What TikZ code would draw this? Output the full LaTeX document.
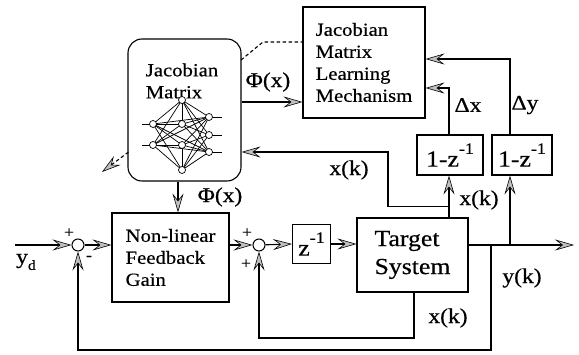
\documentclass[tikz,border=0pt]{standalone}
\usepackage{fontspec}
\setmainfont{Liberation Serif}[FakeStretch=1.12,FakeBold=0.5]
\usetikzlibrary{arrows.meta,calc}

\tikzset{
  sig/.style={line width=1.1pt},
  sigarrow/.style={arrows={-Stealth[length=19pt,width=11pt,inset=7pt,fill=gray!50,line width=0.6pt]}},
  blk/.style={draw,line width=1.1pt,inner sep=0pt,align=left,font=\fontsize{18.5}{22}\selectfont},
  sumnode/.style={draw,circle,line width=1pt,fill=white,minimum size=12pt,inner sep=0pt},
  lbl/.style={font=\fontsize{21}{22}\selectfont,inner sep=0pt},
  sgn/.style={font=\fontsize{16}{16}\selectfont,inner sep=0pt},
  neuron/.style={draw,circle,fill=white,line width=0.7pt,minimum size=7pt,inner sep=0pt},
  wire/.style={line width=0.7pt},
}
\newcommand{\supm}[1]{\raisebox{0.55em}{\fontsize{16}{16}\selectfont #1}}

\begin{document}
\begin{tikzpicture}[x=1pt,y=-1pt]
\useasboundingbox (0,0) rectangle (579,355);

% blocks
\node[blk,rounded corners=14pt,minimum width=113pt,minimum height=142pt] (jac) at (184.5,110) {};
\node[font=\fontsize{18.5}{22}\selectfont,align=left,inner sep=0pt] (jactext) at (182,81) {Jacobian\\Matrix};
\node[blk,minimum width=122pt,minimum height=111pt] (jml) at (364,62.5) {Jacobian\\Matrix\\Learning\\Mechanism};
\node[blk,minimum width=117pt,minimum height=89pt] (nfg) at (170.5,257.5) {Non-linear\\Feedback\\Gain};
\node[blk,minimum width=111pt,minimum height=74pt,font=\fontsize{23}{28}\selectfont] (tgt) at (412.5,255) {Target\\System};
\node[blk,minimum width=38pt,minimum height=39pt,align=center,font=\fontsize{23}{22}\selectfont] (zd) at (311.5,244) {z\supm{-1}};
\node[blk,minimum width=66pt,minimum height=40pt,align=center,font=\fontsize{23}{22}\selectfont] (df1) at (450,155) {1-z\supm{-1}};
\node[blk,minimum width=60pt,minimum height=40pt,align=center,font=\fontsize{23}{22}\selectfont] (df2) at (522,155) {1-z\supm{-1}};

% summing junctions
\node[sumnode] (s1) at (78,245) {};
\node[sumnode] (s2) at (259,245) {};

% neural network inside the Jacobian block
\coordinate (nt) at (182,100);
\coordinate (nb) at (182,170);
\coordinate (l1) at (153,124);
\coordinate (l2) at (153,145);
\coordinate (m1) at (182,124);
\coordinate (m2) at (182,145);
\coordinate (r1) at (209,117);
\coordinate (r2) at (209,135);
\coordinate (r3) at (209,152);
\foreach \a in {l1,l2,r1,r2,r3} {
  \draw[wire] (nt) -- (\a);
  \draw[wire] (nb) -- (\a);
}
\draw[wire] (nt) -- (m1);
\draw[wire] (nb) -- (m2);
\foreach \a in {l1,l2} {
  \foreach \b in {m1,m2,r1,r3} {\draw[wire] (\a) -- (\b);}
}
\foreach \a in {m1,m2} {
  \foreach \b in {r1,r2,r3} {\draw[wire] (\a) -- (\b);}
}
\draw[wire] (142,124) -- (l1);
\draw[wire] (142,145) -- (l2);
\draw[wire] (r1) -- (222,117);
\draw[wire] (r2) -- (222,135);
\draw[wire] (r3) -- (222,152);
\foreach \a in {nt,nb,l1,l2,m1,m2,r1,r2,r3} {\node[neuron] (n\a) at (\a) {};}

% connectors
\coordinate (yd) at (15,245);
\coordinate (ytap) at (491,245);
\coordinate (ybr) at (510,245);
\coordinate (yout) at (574,245);
\coordinate (xtap) at (449,206.5);
\coordinate (xbr) at (388,206.5);
\coordinate (xup) at (388,152);
\coordinate (dxc) at (449,88);
\coordinate (dyc) at (510,59);
\coordinate (xdn) at (414,338);
\coordinate (xlf) at (259,338);
\coordinate (ydn) at (491,350);
\coordinate (ylf) at (78,350);

\draw[sig,sigarrow] (yd) -- (s1);
\draw[sig,sigarrow] (s1) -- (nfg.west |- s1);
\draw[sig,sigarrow] (nfg.east |- s2) -- (s2);
\draw[sig,sigarrow] (s2) -- (zd.west);
\draw[sig,sigarrow] (zd.east) -- (tgt.west |- zd);
\draw[sig,sigarrow] (tgt.east |- ytap) -- (yout);
\draw[sig,sigarrow] (ybr) -- (df2.south -| ybr);
\draw[sig,sigarrow] (ytap) -- (ydn) -- (ylf) -- (s1);
\draw[sig,sigarrow] (tgt.south -| xdn) -- (xdn) -- (xlf) -- (s2);
\draw[sig,sigarrow] (tgt.north -| xtap) -- (df1.south -| xtap);
\draw[sig,sigarrow] (xtap) -- (xbr) -- (xup) -- (jac.east |- xup);
\draw[sig,sigarrow] (df1.north -| dxc) -- (dxc) -- (jml.east |- dxc);
\draw[sig,sigarrow] (df2.north -| dyc) -- (dyc) -- (jml.east |- dyc);
\draw[sig,sigarrow] (jac.east |- 0,102) -- (jml.west |- 0,102);
\draw[sig,sigarrow] (jac.south -| 178,0) -- (nfg.north -| 178,0);

% dashed links
\coordinate (dk) at (263,42);
\coordinate (dst) at (241,60);
\draw[sig,dash pattern=on 3.5pt off 2.5pt] (dst) -- (dk) -- (jml.west |- dk);
\coordinate (dsrc) at (128.5,152);
\coordinate (dout) at (102,172);
\draw[sig,dash pattern=on 3.5pt off 2.5pt,sigarrow] (dsrc) -- (dout);

% labels
\node[sgn] (p1) at (69,233) {+};
\node[sgn] (m1s) at (89,258) {-};
\node[sgn] (p2) at (247,233) {+};
\node[sgn] (p3) at (246,264) {+};
\node[lbl] (ydl) at (26,262) {y\raisebox{-0.3em}{\fontsize{14}{14}\selectfont d}};
\node[lbl] (phi1) at (268,82) {Φ(x)};
\node[lbl] (phi2) at (220,197) {Φ(x)};
\node[lbl] (xk1) at (349,170) {x(k)};
\node[lbl] (xk2) at (479,200) {x(k)};
\node[lbl] (xk3) at (448,318) {x(k)};
\node[lbl] (ykl) at (522,278) {y(k)};
\node[lbl] (dxl) at (468,105) {Δx};
\node[lbl] (dyl) at (525,105) {Δy};
\end{tikzpicture}
\end{document}
